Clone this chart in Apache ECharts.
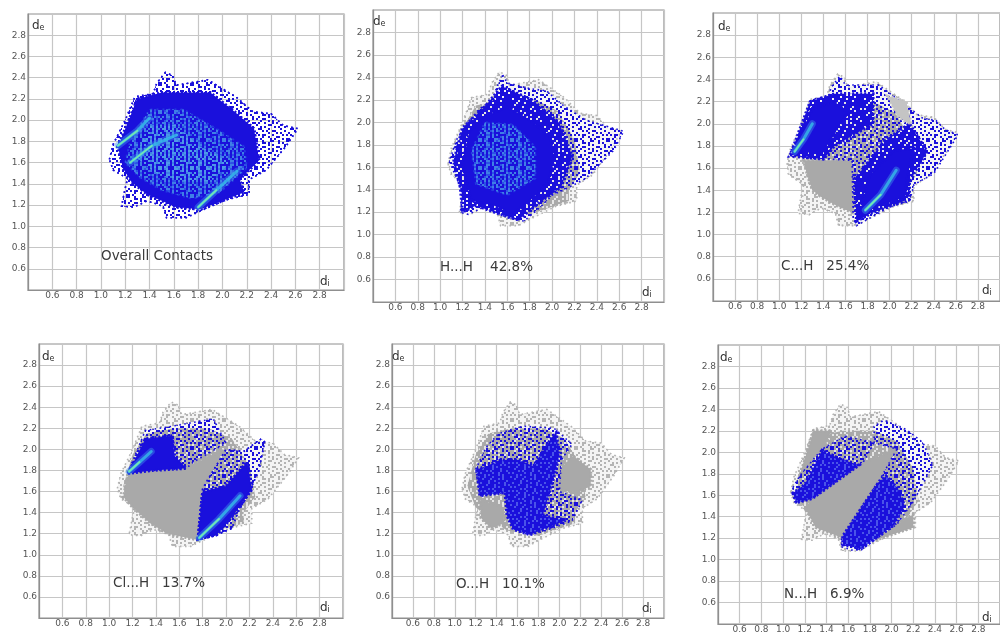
<!DOCTYPE html>
<html><head><meta charset="utf-8">
<style>html,body{margin:0;padding:0;background:#fff;overflow:hidden}
#c{width:1000px;height:634px;filter:blur(0.7px)}</style>
<script src="https://cdn.jsdelivr.net/npm/echarts@6/dist/echarts.min.js"></script>
</head><body><div id="c"></div>
<script>
// ---------- axis / labels ----------
const tickLabels = ['0.6','0.8','1.0','1.2','1.4','1.6','1.8','2.0','2.2','2.4','2.6','2.8'];
const panelNames = ['Overall Contacts','H...H    42.8%','C...H   25.4%','Cl...H   13.7%','O...H   10.1%','N...H   6.9%'];

// ---------- regions, [di, de] ----------
const outlineAll = [[1.07,1.63],[1.10,1.77],[1.20,2.00],[1.28,2.22],[1.43,2.25],[1.46,2.35],[1.53,2.45],[1.59,2.42],[1.62,2.33],[1.73,2.35],[1.88,2.38],[1.98,2.31],[2.11,2.22],[2.25,2.08],[2.40,2.06],[2.50,1.95],[2.62,1.92],[2.52,1.75],[2.36,1.53],[2.22,1.44],[2.22,1.30],[2.03,1.25],[1.79,1.13],[1.70,1.08],[1.54,1.08],[1.51,1.19],[1.38,1.24],[1.27,1.18],[1.17,1.19],[1.20,1.36],[1.22,1.45],[1.10,1.53]];
const grayCore = [[1.12,1.65],[1.20,1.95],[1.32,2.15],[1.55,2.20],[1.85,2.20],[2.05,2.10],[2.20,1.85],[2.25,1.55],[2.15,1.40],[2.15,1.30],[1.80,1.18],[1.50,1.23],[1.35,1.33],[1.20,1.45]];

const allDense = [[1.14,1.75],[1.30,2.20],[1.50,2.26],[1.90,2.26],[2.10,2.08],[2.26,1.92],[2.30,1.62],[2.14,1.44],[2.18,1.32],[1.82,1.16],[1.62,1.18],[1.50,1.24],[1.38,1.30],[1.25,1.42],[1.18,1.55]];
const allCenter = [[1.20,1.60],[1.24,1.80],[1.40,2.10],[1.68,2.10],[1.95,1.92],[2.18,1.75],[2.20,1.55],[1.98,1.32],[1.75,1.26],[1.50,1.34],[1.32,1.46]];
const allCore = [[1.28,1.66],[1.40,1.95],[1.62,1.96],[1.80,1.76],[2.08,1.62],[1.90,1.42],[1.65,1.42],[1.45,1.50]];
const allStreakA = [[1.14,1.76],[1.30,1.90],[1.40,2.02]];
const allStreakB = [[1.80,1.18],[1.95,1.34],[2.12,1.52]];
const allStreakC = [[1.24,1.60],[1.42,1.76],[1.62,1.86]];

const hhSpeck = [[1.56,2.42],[1.60,2.35],[1.80,2.30],[1.95,2.28],[2.10,2.15],[2.30,2.02],[2.64,1.92],[2.55,1.75],[2.30,1.50],[2.15,1.42],[2.00,1.35],[1.90,1.25],[1.75,1.12],[1.60,1.15],[1.40,1.25],[1.25,1.18],[1.18,1.20],[1.20,1.35],[1.15,1.50],[1.08,1.65],[1.15,1.85],[1.25,2.00],[1.35,2.12],[1.48,2.20],[1.50,2.30]];
const hhDense = [[1.12,1.65],[1.20,1.95],[1.40,2.14],[1.55,2.32],[1.82,2.20],[2.06,2.00],[2.18,1.70],[2.08,1.42],[1.88,1.28],[1.70,1.13],[1.48,1.20],[1.32,1.26],[1.20,1.20],[1.18,1.42]];
const hhSolid = [[1.20,1.62],[1.26,1.92],[1.42,2.06],[1.60,2.14],[1.80,2.02],[1.98,1.88],[2.02,1.66],[1.96,1.46],[1.80,1.30],[1.65,1.18],[1.48,1.26],[1.28,1.30]];
const hhCenter = [[1.32,1.45],[1.28,1.75],[1.40,2.00],[1.65,1.98],[1.85,1.78],[1.85,1.50],[1.60,1.35]];

const chQuad = [[1.08,1.70],[1.66,1.67],[1.66,1.19],[1.69,1.10],[1.54,1.08],[1.51,1.19],[1.38,1.24],[1.27,1.18],[1.20,1.20],[1.22,1.45],[1.08,1.55]];
const chQuadSolid = [[1.22,1.67],[1.66,1.67],[1.66,1.20],[1.52,1.26],[1.38,1.34],[1.30,1.40],[1.26,1.52]];
const chSpeck = [[1.08,1.70],[1.18,1.90],[1.30,2.22],[1.45,2.25],[1.47,2.33],[1.55,2.43],[1.60,2.35],[1.90,2.35],[2.10,2.20],[2.30,2.05],[2.42,2.03],[2.50,1.95],[2.62,1.90],[2.40,1.55],[2.22,1.45],[2.18,1.30],[2.00,1.25],[1.70,1.08],[1.67,1.15],[1.66,1.67]];
const chDenseA = [[1.10,1.72],[1.28,2.20],[1.50,2.27],[1.85,2.27],[1.85,2.00],[1.50,1.80],[1.40,1.68],[1.20,1.70]];
const chDenseB = [[1.70,1.12],[1.85,1.20],[2.18,1.32],[2.18,1.48],[2.34,1.75],[2.18,2.00],[1.95,1.85],[1.78,1.62],[1.68,1.50]];
const chSolidA = [[1.12,1.74],[1.30,2.14],[1.50,2.20],[1.62,2.10],[1.50,1.92],[1.40,1.74]];
const chSolidB = [[1.72,1.16],[1.86,1.24],[2.14,1.34],[2.16,1.52],[2.22,1.78],[2.04,1.76],[1.82,1.54]];
const chPale = [[1.98,2.25],[2.15,2.20],[2.20,1.98],[2.07,2.07]];
const chStreakA = [[1.14,1.75],[1.22,1.86],[1.30,2.00]];
const chStreakB = [[1.78,1.22],[1.92,1.36],[2.06,1.58]];

const clGray = [[1.17,1.78],[1.37,1.80],[1.66,1.82],[1.72,1.86],[1.98,2.00],[1.85,1.72],[1.80,1.63],[1.80,1.27],[1.76,1.14],[1.50,1.20],[1.35,1.30],[1.20,1.45],[1.12,1.55]];
const clSpeckA = [[1.16,1.78],[1.31,2.18],[1.49,2.21],[1.89,2.29],[2.00,2.06],[1.72,1.88],[1.66,1.82],[1.37,1.80]];
const clDenseA = [[1.16,1.77],[1.31,2.10],[1.54,2.13],[1.56,1.94],[1.66,1.82],[1.37,1.80]];
const clSpeckB = [[1.76,1.14],[1.80,1.63],[1.88,1.78],[2.00,2.00],[2.15,1.98],[2.30,2.10],[2.33,2.07],[2.28,1.80],[2.20,1.60],[2.10,1.40],[2.05,1.25],[1.90,1.18]];
const clDenseB = [[1.76,1.15],[1.80,1.60],[2.00,1.65],[2.18,1.88],[2.22,1.62],[2.05,1.36],[1.92,1.19]];
const clStreakA = [[1.17,1.79],[1.26,1.88],[1.36,1.98]];
const clStreakB = [[1.77,1.16],[1.94,1.34],[2.12,1.56]];

const ohSpeck = [[1.20,1.81],[1.30,2.02],[1.42,2.15],[1.65,2.22],[1.95,2.20],[2.12,2.05],[2.02,1.90],[2.00,1.60],[2.22,1.52],[2.12,1.32],[1.84,1.22],[1.72,1.19],[1.56,1.24],[1.48,1.59],[1.24,1.56]];
const ohDense = [[1.21,1.81],[1.30,1.84],[1.43,1.90],[1.62,1.90],[1.75,1.84],[1.94,2.13],[1.97,2.16],[2.00,1.94],[1.94,1.71],[1.84,1.37],[2.07,1.33],[1.72,1.19],[1.56,1.24],[1.50,1.37],[1.48,1.59],[1.24,1.56]];
const ohGrayA = [[2.00,1.81],[2.13,1.94],[2.30,1.81],[2.30,1.65],[2.16,1.59],[1.97,1.62]];
const ohGrayB = [[1.25,1.52],[1.47,1.45],[1.47,1.30],[1.35,1.25],[1.25,1.35]];

const nhGrayA = [[1.25,1.58],[1.75,1.90],[2.03,2.03],[1.90,1.75],[1.54,1.20],[1.50,1.22],[1.30,1.30],[1.22,1.45]];
const nhGrayB = [[1.16,1.80],[1.28,2.20],[1.45,2.20],[1.36,2.03]];
const nhGrayC = [[1.85,1.18],[2.20,1.30],[2.20,1.42],[2.05,1.33]];
const nhSpeckA = [[1.09,1.67],[1.12,1.53],[1.27,1.57],[1.74,1.91],[1.84,2.09],[1.57,2.15],[1.36,2.03],[1.16,1.79]];
const nhDenseA = [[1.09,1.62],[1.12,1.53],[1.27,1.57],[1.70,1.88],[1.50,1.95],[1.36,2.02],[1.20,1.70]];
const nhSpeckB = [[1.54,1.12],[1.63,1.09],[1.72,1.09],[1.84,1.18],[2.05,1.33],[2.20,1.54],[2.38,1.88],[2.29,2.09],[2.14,2.21],[1.93,2.30],[1.84,2.24],[1.84,2.09],[2.05,2.03],[1.90,1.76],[1.54,1.20]];
const nhDenseB = [[1.55,1.14],[1.72,1.10],[2.02,1.32],[2.12,1.50],[2.06,1.66],[1.95,1.78],[1.88,1.72],[1.55,1.22]];

// ---------- dot tiles for the scattered look ----------
const sparseMask = ['#..#...##..#...#','...##.#....#.#..','.#....#.#.....#.','#..##.....##..#.','..#...#.#...#...','.#..#...#.#...##','#.....##....#...','..#.#....#.#..#.','.##...#.....#...','...#.#..##....#.','#.....#...#.#...','.#.##...#....#.#','...#..#...##....','#.#....#.#...#.#'];
const denseMask = ['##.###.####.###.','#.###.###.#.####','####.##.#####.##','.###.####.##.###','###.###.####.#.#','#.#####.#.#####.','####.#.####.####','.#.####.###.##.#','###.##.###.#.###','##.###.#.#####.#','#.####.###.#####','###.#.####.##.##','.#####.##.####.#','##.#.####.#.####'];

function tile(mask, fg, bg){
  const s=2, cv=document.createElement('canvas');
  cv.width=mask[0].length*s; cv.height=mask.length*s;
  const g=cv.getContext('2d');
  if(bg){g.fillStyle=bg;g.fillRect(0,0,cv.width,cv.height);}
  g.fillStyle=fg;
  mask.forEach((r,y)=>{for(let x=0;x<r.length;x++) if(r[x]==='#') g.fillRect(x*s,y*s,s,s);});
  return {image:cv,repeat:'repeat'};
}
const BLUE='#1a10dc', GRAY='#a9a9a9';
const solidEdge=c=>({stroke:c,lineWidth:3,lineDash:[2,2]});
const dotEdge=c=>({stroke:c,lineWidth:1.6,lineDash:[1.6,3.4]});
const fills = {
  blue:{fill:BLUE,...solidEdge(BLUE)},
  gray:{fill:GRAY,...solidEdge(GRAY)},
  pale:{fill:'#c4c4c4',...solidEdge('#c4c4c4')},
  speckBlue:{fill:tile(sparseMask,BLUE,null),...dotEdge(BLUE)},
  denseBlue:{fill:tile(denseMask,BLUE,null),...solidEdge(BLUE)},
  texBlue:{fill:tile(denseMask,BLUE,'#4a54e8'),...solidEdge(BLUE)},
  speckGray:{fill:tile(sparseMask,'#b4b4b4','#f4f4f4'),...dotEdge('#b4b4b4')},
  denseGray:{fill:tile(denseMask,GRAY,'#e4e4e4')},
  softMid:{fill:tile(sparseMask,'#2c52e6',null),stroke:'#2438e0',lineWidth:2,lineDash:[2,4]},
  speckMid:{fill:tile(sparseMask.slice().reverse(),'#3f7fe6',null)},
  denseMid:{fill:tile(sparseMask,'#4e9ae8',null)}
};

// ---------- panels ----------
const panels = [
 {box:[28,14,316,276], de:[32,20], di:[320,276], txt:[101,249],
  layers:[[outlineAll,'speckBlue'],[outlineAll,'speckBlue'],[allDense,'blue'],[allCenter,'softMid'],[allCenter,'speckMid'],[allCore,'denseMid']],
  streaks:[allStreakA,allStreakB,allStreakC]},
 {box:[373,10,291,292], de:[373,16], di:[642,287], txt:[440,260],
  layers:[[outlineAll,'speckGray'],[grayCore,'denseGray'],[hhSpeck,'speckBlue'],[hhDense,'denseBlue'],[hhSolid,'blue'],[hhCenter,'softMid'],[hhCenter,'speckMid']],
  streaks:[]},
 {box:[713,13,293,288], de:[718,21], di:[982,285], txt:[781,259],
  layers:[[outlineAll,'speckGray'],[grayCore,'denseGray'],[chQuad,'speckGray'],[chQuadSolid,'gray'],[chSpeck,'speckBlue'],[chPale,'pale'],[chDenseA,'denseBlue'],[chDenseB,'denseBlue'],[chSolidA,'blue'],[chSolidB,'blue']],
  streaks:[chStreakA,chStreakB]},
 {box:[39,344,304,274], de:[42,351], di:[320,602], txt:[113,576],
  layers:[[outlineAll,'speckGray'],[grayCore,'denseGray'],[clGray,'gray'],[clSpeckA,'speckBlue'],[clSpeckB,'speckBlue'],[clSpeckB,'speckBlue'],[clDenseA,'blue'],[clDenseB,'denseBlue'],[clDenseB,'blue']],
  streaks:[clStreakA,clStreakB]},
 {box:[392,344,272,274], de:[392,351], di:[642,603], txt:[456,577],
  layers:[[outlineAll,'speckGray'],[grayCore,'denseGray'],[ohGrayA,'gray'],[ohGrayB,'gray'],[ohSpeck,'speckBlue'],[ohDense,'texBlue']],
  streaks:[]},
 {box:[718,345,288,284], de:[720,352], di:[982,612], txt:[784,587],
  layers:[[outlineAll,'speckGray'],[grayCore,'denseGray'],[nhGrayA,'gray'],[nhGrayB,'gray'],[nhGrayC,'gray'],[nhSpeckA,'speckBlue'],[nhSpeckB,'speckBlue'],[nhDenseA,'texBlue'],[nhDenseB,'texBlue']],
  streaks:[]}
];

const grid=[],xAxis=[],yAxis=[],series=[],title=[];
function axis(i,type){
  return {type:'value',gridIndex:i,min:0.4,max:3.0,interval:0.2,
    axisLine:{show:true,onZero:false,lineStyle:{color:'#8f8f8f',width:1.2}},axisTick:{show:false},
    splitLine:{show:true,lineStyle:{color:'#c6c6c6',width:1.2}},
    axisLabel:{show:true,color:'#555',fontSize:9,fontFamily:'DejaVu Sans',margin:type==='x'?1:2,showMinLabel:false,showMaxLabel:false,
      formatter:v=>{const s=v.toFixed(1);return tickLabels.includes(s)?s:'';}}};
}
panels.forEach((p,i)=>{
  grid.push({left:p.box[0],top:p.box[1],width:p.box[2],height:p.box[3],show:true,borderColor:'#8f8f8f',borderWidth:1.2,containLabel:false});
  xAxis.push(axis(i,'x')); yAxis.push(axis(i,'y'));
  p.layers.forEach((l,k)=>{
    const pts=l[0], st=fills[l[1]];
    series.push({type:'custom',xAxisIndex:i,yAxisIndex:i,z:3+k,silent:true,clip:false,data:pts,
      encode:{x:0,y:1},
      renderItem:(params,api)=>{
        if(params.dataIndex!==0) return null;
        return {type:'polygon',shape:{points:pts.map(q=>api.coord(q))},style:Object.assign({},st)};
      }});
  });
  p.streaks.forEach(s=>{
    series.push({type:'line',xAxisIndex:i,yAxisIndex:i,z:29,silent:true,data:s,showSymbol:false,
      lineStyle:{color:'#3f8fe8',width:7,opacity:0.45,cap:'round'}});
    series.push({type:'line',xAxisIndex:i,yAxisIndex:i,z:30,silent:true,data:s,showSymbol:false,
      lineStyle:{color:'#35b6e8',width:3,opacity:0.85,cap:'round'}});
    series.push({type:'line',xAxisIndex:i,yAxisIndex:i,z:31,silent:true,data:s.slice(0,2),showSymbol:false,
      lineStyle:{color:'#74e6b4',width:1.8,cap:'round'}});
  });
  const rich={a:{fontSize:12,fontWeight:'normal',color:'#333',fontFamily:'DejaVu Sans'},b:{fontSize:8,fontWeight:'normal',color:'#333',fontFamily:'DejaVu Sans',verticalAlign:'bottom',padding:[4,0,0,0]}};
  title.push({text:'{a|d}{b|e}',left:p.de[0],top:p.de[1],padding:0,textStyle:{fontWeight:'normal',rich}});
  title.push({text:'{a|d}{b|i}',left:p.di[0],top:p.di[1],padding:0,textStyle:{fontWeight:'normal',rich}});
  title.push({text:panelNames[i],left:p.txt[0],top:p.txt[1],padding:0,textStyle:{fontSize:13.5,fontWeight:'normal',color:'#3a3a3a',fontFamily:'DejaVu Sans'}});
});
const chart=echarts.init(document.getElementById('c'),null,{width:1000,height:634,renderer:'canvas'});
chart.setOption({animation:false,backgroundColor:'#fff',title,grid,xAxis,yAxis,series,tooltip:{show:false},legend:{show:false}});
</script></body></html>
